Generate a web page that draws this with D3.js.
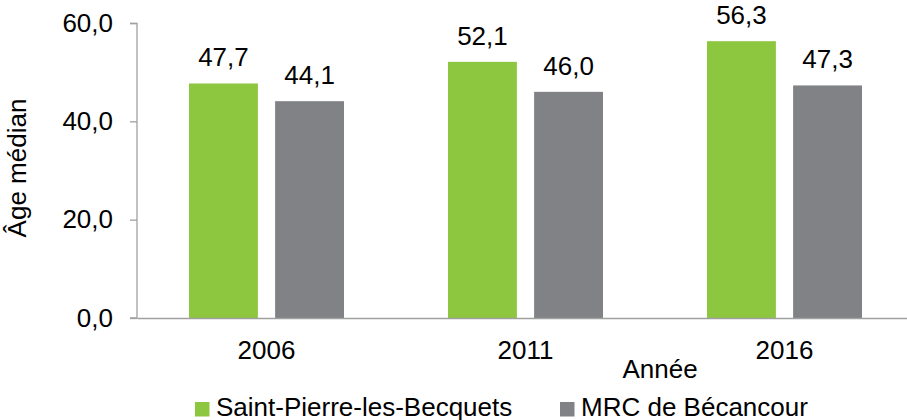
<!DOCTYPE html>
<html>
<head>
<meta charset="utf-8">
<script src="https://cdn.jsdelivr.net/npm/d3@7"></script>
<style>
  body { margin: 0; background: #fff; }
  svg { display: block; font-family: "Liberation Sans", Arial, sans-serif; }
</style>
</head>
<body>
<svg id="chart" width="907" height="420"></svg>
<script>
const years = ['2006', '2011', '2016'];
const seriesNames = ['Saint-Pierre-les-Becquets', 'MRC de Bécancour'];
const stPierre = [47.7, 52.1, 56.3];
const mrc = [44.1, 46.0, 47.3];
const yTicks = [0, 20, 40, 60];
const colors = ['#8dc63f', '#808285'];

const width = 907, height = 420;
const margin = { top: 23, left: 137, bottom: 102, right: -7 };
const innerWidth = width - margin.left - margin.right;
const innerHeight = height - margin.top - margin.bottom;
const fontSize = 26;
const fmt = d => d3.format('.1f')(d).replace('.', ',');

const svg = d3.select('#chart');
const g = svg.append('g').attr('transform', `translate(${margin.left},${margin.top})`);

const x = d3.scaleBand().domain(years).range([0, innerWidth]);
const x1 = d3.scaleBand().domain(seriesNames).range([52, x.bandwidth() - 52]).paddingInner(0.2);
const y = d3.scaleLinear().domain([0, 60]).range([innerHeight, 0]);

const rows = years.map((yr, i) => ({ year: yr, values: [stPierre[i], mrc[i]] }));

// bars
const groups = g.selectAll('.grp')
  .data(rows)
  .join('g')
    .attr('class', 'grp')
    .attr('transform', d => `translate(${x(d.year)},0)`);

groups.selectAll('rect')
  .data(d => d.values.map((v, i) => ({ key: seriesNames[i], v, i })))
  .join('rect')
    .attr('x', d => x1(d.key))
    .attr('y', d => y(d.v))
    .attr('width', x1.bandwidth())
    .attr('height', d => innerHeight - y(d.v))
    .attr('fill', d => colors[d.i]);

groups.selectAll('text.val')
  .data(d => d.values.map((v, i) => ({ key: seriesNames[i], v, i })))
  .join('text')
    .attr('class', 'val')
    .attr('x', d => x1(d.key) + x1.bandwidth() / 2)
    .attr('y', d => y(d.v) - 17)
    .attr('text-anchor', 'middle')
    .attr('font-size', fontSize)
    .attr('fill', '#000')
    .text(d => fmt(d.v));

// y axis
const yAxis = g.append('g')
  .call(d3.axisLeft(y).tickValues(yTicks).tickFormat(fmt).tickSize(7).tickPadding(17));
yAxis.selectAll('path, line').attr('stroke', '#a0a0a0').attr('stroke-width', 1.3);
yAxis.select('.domain').attr('d', `M-7,0.5H0V${innerHeight}H-7`);
yAxis.attr('font-size', fontSize).attr('font-family', null);
yAxis.selectAll('text').attr('fill', '#000');

// x axis
const xAxis = g.append('g')
  .attr('transform', `translate(0,${innerHeight})`)
  .call(d3.axisBottom(x).tickSize(0).tickPadding(23));
xAxis.select('.domain').attr('stroke', '#a0a0a0').attr('stroke-width', 1.5);
xAxis.attr('font-size', fontSize).attr('font-family', null);
xAxis.selectAll('text').attr('fill', '#000');

// axis titles
svg.append('text')
  .attr('transform', `translate(26,168) rotate(-90)`)
  .attr('text-anchor', 'middle')
  .attr('font-size', fontSize)
  .text('Âge médian');

svg.append('text')
  .attr('x', 660)
  .attr('y', 378)
  .attr('text-anchor', 'middle')
  .attr('font-size', fontSize)
  .text('Année');

// legend
const legendX = [195, 560];
const legend = svg.selectAll('.leg')
  .data(seriesNames)
  .join('g')
    .attr('class', 'leg')
    .attr('transform', (d, i) => `translate(${legendX[i]},402)`);
legend.append('rect')
  .attr('width', 14.5).attr('height', 14.5)
  .attr('fill', (d, i) => colors[i]);
legend.append('text')
  .attr('x', 21).attr('y', 14)
  .attr('font-size', fontSize)
  .text(d => d);
</script>
</body>
</html>
